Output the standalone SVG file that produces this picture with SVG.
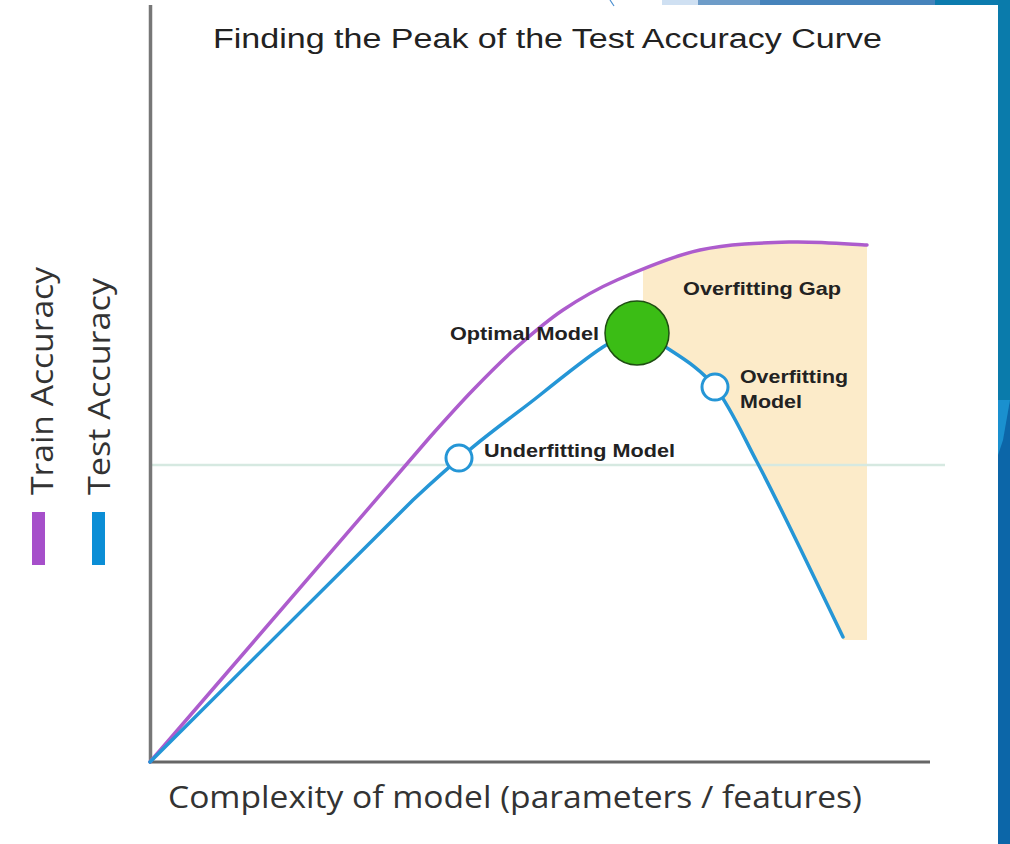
<svg xmlns="http://www.w3.org/2000/svg" width="1010" height="844" viewBox="0 0 1010 844">
<style>
.lbl{font-family:"Liberation Sans",Arial,sans-serif;font-weight:bold;font-size:19px;fill:#222}
.ax{font-family:"Open Sans","Noto Sans",sans-serif;font-size:31px;fill:#333}
.curve{fill:none;stroke-width:3.5;stroke-linecap:round;stroke-linejoin:round}
.open{fill:#fff;stroke:#2596d6;stroke-width:3}
</style>
<rect x="0" y="0" width="1010" height="844" fill="#fff"/>
<!-- decorative frame edges -->
<g id="frame">
<rect x="662" y="0" width="36" height="5" fill="#cfe0f2"/>
<rect x="698" y="0" width="62" height="5" fill="#6e9cc8"/>
<rect x="760" y="0" width="175" height="5" fill="#4683bb"/>
<rect x="935" y="0" width="75" height="5" fill="#0c7bae"/>
<rect x="998" y="0" width="12" height="844" fill="#0c66a8"/>
<polygon points="998,0 1010,0 1010,400 998,455" fill="#0a7bab"/>
<polygon points="998,400 1010,400 1003,440 998,455" fill="#1a90cf"/>
<path d="M610,0 Q612,3 614,6" fill="none" stroke="#4a8fd0" stroke-width="1.2"/>
</g>
<g id="gap">
<path d="M643,269 C660,261 680,255 700,250 C728.8,243.7 762.2,242.8 790,242 C817.8,241.2 854.2,244.5 867,245 L867,640 L843,640 C835.8,622.2 814.3,577.2 800,548 C785.7,518.8 771.2,488.8 757,462 C742.8,435.2 730,406 715,387 C700,368 680.3,356.8 667,348 L643,340 Z" fill="#fcebc9"/>
<text class="lbl" x="683" y="295" textLength="158" lengthAdjust="spacingAndGlyphs">Overfitting Gap</text>
</g>
<g id="axes">
<line x1="150" y1="465" x2="945" y2="465" stroke="#d6e9e1" stroke-width="2.5"/>
<line x1="150.5" y1="5" x2="150.5" y2="762" stroke="#777" stroke-width="3.5"/>
<line x1="149" y1="762" x2="930" y2="762" stroke="#666" stroke-width="3"/>
</g>
<g id="connectors">
<path id="train" class="curve" stroke="#ad5ccd" d="M150,762 L430,437 C443.8,421.5 458.5,405 473,390 C487.5,375 502,360.3 517,347 C532,333.7 546.3,321.2 563,310 C579.7,298.8 594.2,290 617,280 C639.8,270 671.2,256.3 700,250 C728.8,243.7 762.2,242.8 790,242 C817.8,241.2 854.2,244.5 867,245"/>
<path id="test" class="curve" stroke="#2596d6" d="M150,762 L413,500 C478,438.8 508.3,420.5 540,395 C571.7,369.5 587.2,357.2 603,347 C618.8,336.8 624.3,334.2 635,334 C645.7,334.2 653.7,339.2 667,348 C680.3,356.8 700,368 715,387 C730,406 742.8,435.2 757,462 C771.2,488.8 785.7,518.8 800,548 C814.3,577.2 835.8,622.2 843,637"/>
</g>
<g id="underfitting">
<circle class="open" cx="459" cy="458" r="13"/>
<text class="lbl" x="484" y="457" textLength="191" lengthAdjust="spacingAndGlyphs">Underfitting Model</text>
</g>
<g id="optimal">
<circle cx="637" cy="333" r="32" fill="#3bbd15" stroke="#1e4e12" stroke-width="1.5"/>
<text class="lbl" x="450" y="340" textLength="149" lengthAdjust="spacingAndGlyphs">Optimal Model</text>
</g>
<g id="overfitting">
<circle class="open" cx="715" cy="387" r="13"/>
<text class="lbl" x="740" y="383" textLength="108" lengthAdjust="spacingAndGlyphs">Overfitting</text>
<text class="lbl" x="740" y="408" textLength="62" lengthAdjust="spacingAndGlyphs">Model</text>
</g>
<g id="title">
<text x="213" y="48" font-family="Liberation Sans,Arial,sans-serif" font-size="27" fill="#222" textLength="669" lengthAdjust="spacingAndGlyphs">Finding the Peak of the Test Accuracy Curve</text>
</g>
<g id="xlabel">
<text class="ax" x="168" y="808" textLength="694" lengthAdjust="spacingAndGlyphs">Complexity of model (parameters / features)</text>
</g>
<g id="legend">
<rect x="32" y="512" width="13" height="53" fill="#a64fca"/>
<rect x="92" y="512" width="13" height="53" fill="#0b8ed6"/>
<text class="ax" transform="translate(53,495) rotate(-90)" x="0" y="0" textLength="228" lengthAdjust="spacingAndGlyphs">Train Accuracy</text>
<text class="ax" transform="translate(110,495) rotate(-90)" x="0" y="0" textLength="217" lengthAdjust="spacingAndGlyphs">Test Accuracy</text>
</g>
</svg>
